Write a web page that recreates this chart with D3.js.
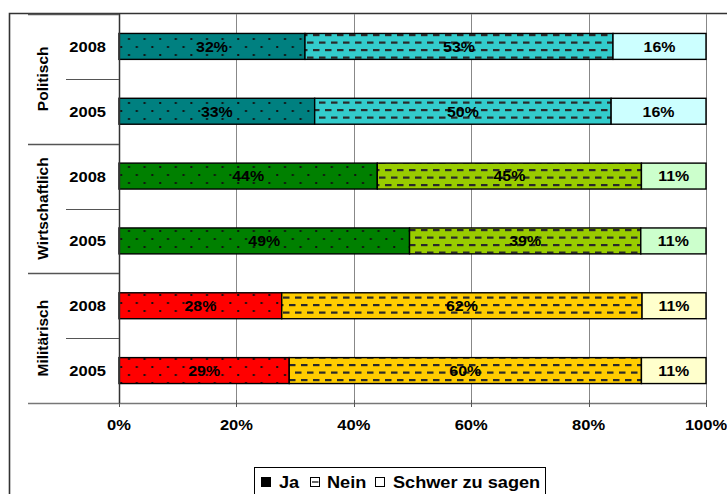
<!DOCTYPE html>
<html>
<head>
<meta charset="utf-8">
<script src="https://cdn.jsdelivr.net/npm/d3@7"></script>
<style>
  html, body { margin: 0; padding: 0; background: #fff; }
  svg { display: block; font-family: "Liberation Sans", Arial, sans-serif; font-weight: bold; }
</style>
</head>
<body>
<svg id="chart" width="727" height="494"></svg>
<script>
// Survey answers by domain and year (percent, each row is drawn as a 100% stacked bar)
const groups = ["Politisch", "Wirtschaftlich", "Militärisch"];
const years = ["2008", "2005"];
const seriesNames = ["Ja", "Nein", "Schwer zu sagen"];
const ja = [32, 33, 44, 49, 28, 29];
const nein = [53, 50, 45, 39, 62, 60];
const schwer = [16, 16, 11, 11, 11, 11];
const tickValues = [0, 0.2, 0.4, 0.6, 0.8, 1];
const tickLabels = ["0%", "20%", "40%", "60%", "80%", "100%"];

// Fill colours per domain: [Ja, Nein, Schwer zu sagen]
const palette = {
  "Politisch": ["#008080", "#33CCCC", "#CCFFFF"],
  "Wirtschaftlich": ["#008000", "#99CC00", "#CCFFCC"],
  "Militärisch": ["#FF0000", "#FFCC00", "#FFFFCC"]
};

const rows = [];
groups.forEach((g, gi) => years.forEach((y, yi) => {
  const i = gi * years.length + yi;
  rows.push({ key: g + "-" + y, group: g, year: y, Ja: ja[i], Nein: nein[i], "Schwer zu sagen": schwer[i] });
}));

const svg = d3.select("#chart");
const plot = { left: 119, right: 706, top: 14, bottom: 403 };
const stretch = 1.1;

const x = d3.scaleLinear().domain([0, 1]).range([plot.left, plot.right]);
const y = d3.scaleBand().domain(rows.map(r => r.key)).range([plot.top, plot.bottom])
  .paddingInner(0.6).paddingOuter(0.3);

// Hatch patterns: dotted for "Ja", dashed for "Nein"
const defs = svg.append("defs");
groups.forEach((g, gi) => {
  const dot = defs.append("pattern").attr("id", "dots" + gi)
    .attr("patternUnits", "userSpaceOnUse").attr("width", 15.6).attr("height", 16)
    .attr("x", plot.left).attr("y", 0);
  dot.append("rect").attr("width", 15.6).attr("height", 16).attr("fill", palette[g][0]);
  dot.append("rect").attr("x", 9).attr("y", 6).attr("width", 2).attr("height", 2).attr("fill", "#111");
  dot.append("rect").attr("x", 1.2).attr("y", 14).attr("width", 2).attr("height", 2).attr("fill", "#111");

  const dash = defs.append("pattern").attr("id", "dash" + gi)
    .attr("patternUnits", "userSpaceOnUse").attr("width", 12).attr("height", 15)
    .attr("x", 0).attr("y", 1);
  dash.append("rect").attr("width", 12).attr("height", 15).attr("fill", palette[g][1]);
  dash.append("rect").attr("x", 1).attr("y", 3).attr("width", 6.5).attr("height", 2.2).attr("fill", "#2a2a2a");
  dash.append("rect").attr("x", 7).attr("y", 10.5).attr("width", 6.5).attr("height", 2.2).attr("fill", "#2a2a2a");
  dash.append("rect").attr("x", -5).attr("y", 10.5).attr("width", 6.5).attr("height", 2.2).attr("fill", "#2a2a2a");
});

function segmentFill(group, si) {
  const gi = groups.indexOf(group);
  if (si === 0) return "url(#dots" + gi + ")";
  if (si === 1) return "url(#dash" + gi + ")";
  return palette[group][2];
}

// Outer chart frame
svg.append("path").attr("d", "M9.5,494 V13.5 H727")
  .attr("fill", "none").attr("stroke", "#333").attr("stroke-width", 1.6);

// Vertical gridlines
svg.append("g").selectAll("line").data(tickValues.slice(1)).join("line")
  .attr("x1", d => Math.round(x(d)) + 0.5).attr("x2", d => Math.round(x(d)) + 0.5)
  .attr("y1", plot.top).attr("y2", plot.bottom)
  .attr("stroke", "#888").attr("stroke-width", 1);

// 100% stacked bars
const stack = d3.stack().keys(seriesNames).offset(d3.stackOffsetExpand);
const layers = stack(rows);

const barG = svg.append("g");
layers.forEach((layer, si) => {
  barG.append("g").selectAll("rect").data(layer).join("rect")
    .attr("x", d => x(d[0]))
    .attr("y", d => y(d.data.key))
    .attr("width", d => x(d[1]) - x(d[0]))
    .attr("height", y.bandwidth())
    .attr("fill", d => segmentFill(d.data.group, si))
    .attr("stroke", "#000").attr("stroke-width", 1.4);
});

// Value labels centred in each segment
layers.forEach((layer, si) => {
  barG.append("g").selectAll("text").data(layer).join("text")
    .attr("transform", d => `translate(${(x(d[0]) + x(d[1])) / 2},${y(d.data.key) + y.bandwidth() / 2 + 5.3}) scale(${stretch},1)`)
    .attr("text-anchor", "middle")
    .attr("font-size", 14.5)
    .attr("fill", "#000")
    .text(d => d.data[seriesNames[si]] + "%");
});

// Value axis (bottom)
const axisG = svg.append("g");
axisG.append("line").attr("x1", 28).attr("x2", plot.right)
  .attr("y1", plot.bottom + 0.5).attr("y2", plot.bottom + 0.5)
  .attr("stroke", "#777").attr("stroke-width", 1.5);
axisG.selectAll("line.tick").data(tickValues).join("line").attr("class", "tick")
  .attr("x1", d => Math.round(x(d)) + 0.5).attr("x2", d => Math.round(x(d)) + 0.5)
  .attr("y1", plot.bottom - 3).attr("y2", plot.bottom + 4)
  .attr("stroke", "#555");
axisG.selectAll("text").data(tickValues).join("text")
  .attr("transform", d => `translate(${x(d)},${plot.bottom + 27}) scale(${stretch},1)`)
  .attr("text-anchor", "middle").attr("font-size", 15).attr("fill", "#000")
  .text((d, i) => tickLabels[i]);

// Category axis (left): axis line, separators and two-level labels
const catG = svg.append("g");
catG.append("line").attr("x1", plot.left + 0.5).attr("x2", plot.left + 0.5)
  .attr("y1", plot.top).attr("y2", plot.bottom)
  .attr("stroke", "#333").attr("stroke-width", 1.5);

const groupStep = (plot.bottom - plot.top) / groups.length;
const groupBounds = d3.range(groups.length).map(i => plot.top + i * groupStep);
catG.selectAll("line.gsep").data(groupBounds).join("line").attr("class", "gsep")
  .attr("x1", 28).attr("x2", plot.left)
  .attr("y1", d => Math.round(d) + 0.5).attr("y2", d => Math.round(d) + 0.5)
  .attr("stroke", "#555").attr("stroke-width", 1.5);

const midLines = groups.map((g, gi) => plot.top + gi * groupStep + groupStep / 2);
catG.selectAll("line.ysep").data(midLines).join("line").attr("class", "ysep")
  .attr("x1", 66).attr("x2", plot.left)
  .attr("y1", d => Math.round(d) + 0.5).attr("y2", d => Math.round(d) + 0.5)
  .attr("stroke", "#555").attr("stroke-width", 1.2);

catG.selectAll("text.year").data(rows).join("text").attr("class", "year")
  .attr("transform", d => `translate(106,${y(d.key) + y.bandwidth() / 2 + 5.5}) scale(${stretch},1)`)
  .attr("text-anchor", "end").attr("font-size", 15).attr("fill", "#000")
  .text(d => d.year);

catG.selectAll("text.group").data(groups).join("text").attr("class", "group")
  .attr("transform", (d, i) => `translate(48,${plot.top + i * groupStep + groupStep / 2}) rotate(-90)`)
  .attr("text-anchor", "middle").attr("font-size", 15.5).attr("fill", "#000")
  .text(d => d);

// Legend
const legend = svg.append("g");
legend.append("rect").attr("x", 254.5).attr("y", 467.5).attr("width", 291).attr("height", 40)
  .attr("fill", "#fff").attr("stroke", "#000").attr("stroke-width", 1);
const legendItems = [
  { name: seriesNames[0], sx: 261, tx: 279 },
  { name: seriesNames[1], sx: 310, tx: 327 },
  { name: seriesNames[2], sx: 375, tx: 393 }
];
legendItems.forEach((it, i) => {
  legend.append("rect").attr("x", it.sx + 0.5).attr("y", 477.5).attr("width", 9).attr("height", 9)
    .attr("fill", i === 0 ? "#000" : "#fff").attr("stroke", "#000").attr("stroke-width", 1);
  if (i === 1) {
    legend.append("line").attr("x1", it.sx + 2).attr("x2", it.sx + 8.5)
      .attr("y1", 482).attr("y2", 482).attr("stroke", "#000").attr("stroke-width", 1.2);
  }
  legend.append("text")
    .attr("transform", `translate(${it.tx},488) scale(${stretch},1)`)
    .attr("font-size", 16.5).attr("fill", "#000")
    .text(it.name);
});
</script>
</body>
</html>
